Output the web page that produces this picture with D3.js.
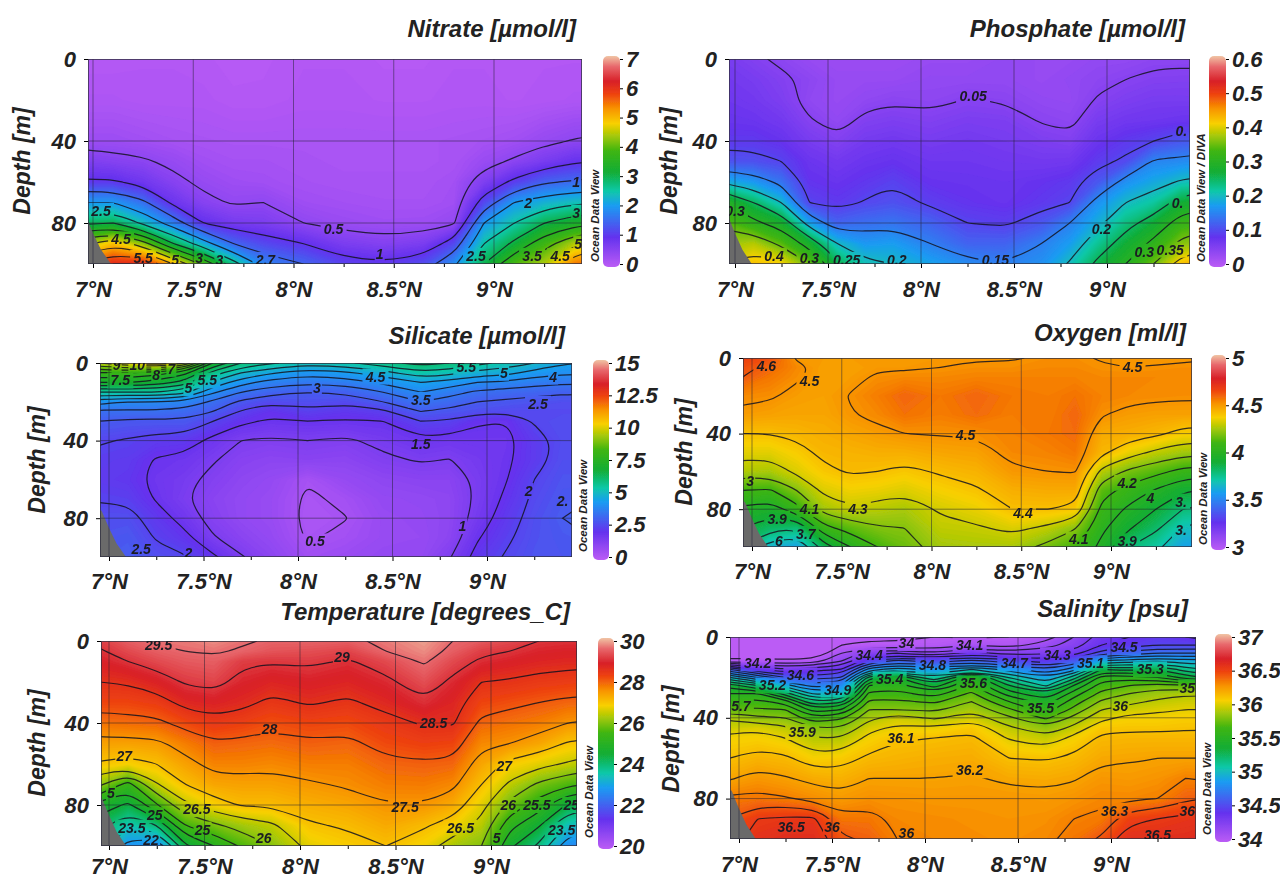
<!DOCTYPE html>
<html>
<head>
<meta charset="utf-8">
<script src="https://d3js.org/d3.v7.min.js"></script>
<style>
  body { margin: 0; background: #fff; }
  text { font-family: "Liberation Sans", Arial, sans-serif; font-weight: bold; font-style: italic; fill: #222; }
</style>
</head>
<body>
<svg id="chart" width="1280" height="879"></svg>
<script>
// Section stations, shared by all six panels
const sectionLats = [6.95, 7.1, 7.25, 7.4, 7.55, 7.7, 7.85, 8.05, 8.25, 8.45, 8.65, 8.8, 8.95, 9.1, 9.25, 9.4, 9.5];
const latTicks = [7, 7.5, 8, 8.5, 9];
const latMinorTicks = [7.25, 7.75, 8.25, 8.75, 9.25];
const depthTicks = [0, 40, 80];
const seafloorLat = [6.9, 6.96, 7.0, 7.04, 7.09, 6.9];
const seafloorDepth = [76, 76, 85, 93, 100, 100];

// Colour bar of the Ocean Data View rainbow
const rainbowStops = [0, 0.14, 0.29, 0.36, 0.45, 0.55, 0.62, 0.68, 0.75, 0.82, 0.88, 0.95, 1];
const rainbowColors = ['#bb5cf5', '#6432ee', '#1a9cf2', '#10c8a8', '#12ad35', '#3fb512', '#a2c808', '#f8d000', '#f89400', '#ee4210', '#d82028', '#e8686c', '#f0c4a4'];

// Nitrate, one row per depth
const nitrateDepths = [0, 20, 40, 50, 60, 70, 80, 90, 100];
const nitrateValues = d3.transpose([
  [.08, .08, .1, .1, .08, .05, .06, .1, .1, .06, .06, .1, .1, .08, .1, .1, .1],
  [.15, .15, .12, .12, .12, .08, .08, .12, .12, .1, .1, .12, .12, .1, .12, .15, .15],
  [.35, .35, .3, .25, .22, .2, .2, .2, .2, .2, .2, .22, .25, .3, .42, .52, .55],
  [.7, .62, .55, .42, .3, .25, .25, .22, .2, .2, .2, .22, .38, .55, .75, .95, 1],
  [1.05, 1.05, .85, .6, .42, .33, .3, .25, .22, .22, .22, .28, .68, 1.1, 1.45, 1.55, 1.6],
  [2, 2, 1.6, .9, .6, .46, .5, .32, .28, .25, .25, .3, 1.2, 2, 2.25, 2.4, 2.45],
  [2.9, 3, 2.4, 1.75, 1, .78, .72, .5, .38, .33, .34, .45, 2, 2.5, 3, 3.3, 3.4],
  [4.3, 4.9, 4.2, 3, 2.2, 1.5, 1.2, 1, .72, .62, .72, 1.2, 2.5, 3.1, 3.8, 4.4, 4.6],
  [5.5, 6, 6, 5, 3.9, 2.7, 1.8, 1.5, 1.15, 1.05, 1.25, 1.9, 3, 3.9, 4.4, 5.4, 5.6]
]);
const nitrateLevels = [.5, 1, 1.5, 2, 2.5, 3, 3.5, 4, 4.5, 5, 5.5, 6];
const nitrateTicks = [0, 1, 2, 3, 4, 5, 6, 7];
const nitrateLabels = [[7.04, 74, '2.5'], [7.14, 88, '4.5'], [7.25, 97, '5.5'], [7.41, 98, '5'], [7.53, 97, '3'], [7.63, 98, '3'], [7.86, 98, '2.7'], [8.2, 83, '0.5'], [8.43, 95, '1'], [8.91, 96, '2.5'], [9.19, 96, '3.5'], [9.33, 96, '4.5'], [9.42, 90, '5'], [9.17, 70, '2'], [9.41, 60, '1'], [9.41, 75, '3']];

// Phosphate, one row per depth
const phosphateDepths = [0, 10, 20, 30, 40, 50, 60, 70, 80, 90, 100];
const phosphateValues = d3.transpose([
  [.065, .055, .045, .035, .03, .03, .03, .035, .035, .04, .035, .035, .04, .04, .045, .045, .045],
  [.07, .065, .055, .045, .035, .035, .035, .04, .04, .04, .035, .04, .045, .05, .055, .056, .056],
  [.075, .07, .06, .042, .035, .042, .047, .044, .051, .048, .04, .038, .052, .06, .065, .065, .064],
  [.08, .078, .07, .052, .04, .056, .06, .056, .062, .06, .048, .044, .065, .072, .075, .078, .08],
  [.09, .09, .082, .065, .055, .068, .072, .066, .07, .066, .06, .056, .078, .09, .1, .115, .12],
  [.112, .11, .1, .078, .07, .078, .082, .075, .075, .072, .07, .072, .092, .105, .155, .16, .165],
  [.19, .172, .14, .085, .08, .088, .098, .082, .08, .078, .083, .09, .115, .164, .185, .205, .21],
  [.3, .25, .2, .1, .09, .102, .11, .095, .085, .08, .09, .1, .165, .2, .22, .27, .28],
  [.34, .31, .28, .18, .125, .135, .14, .125, .1, .095, .115, .15, .19, .235, .27, .32, .33],
  [.37, .38, .34, .28, .2, .17, .175, .15, .125, .125, .15, .175, .225, .27, .31, .36, .37],
  [.4, .42, .41, .35, .26, .21, .2, .18, .16, .15, .165, .205, .26, .3, .35, .42, .44]
]);
const phosphateLevels = [.05, .1, .15, .2, .25, .3, .35, .4];
const phosphateTicks = [0, .1, .2, .3, .4, .5, .6];
const phosphateLabels = [[7, 74, '0.3'], [7.21, 96, '0.4'], [7.4, 97, '0.3'], [7.6, 98, '0.25'], [7.87, 98, '0.2'], [8.4, 98, '0.15'], [8.28, 18, '0.05'], [8.97, 83, '0.2'], [9.2, 94, '0.3'], [9.34, 93, '0.35'], [9.4, 35, '0.'], [9.38, 70, '0.']];

// Silicate, one row per depth
const silicateDepths = [0, 5, 10, 15, 20, 25, 30, 40, 50, 60, 70, 80, 90, 100];
const silicateValues = d3.transpose([
  [9.5, 10, 10.5, 9.5, 7, 6, 5.6, 5.2, 5.4, 5.8, 6.2, 6, 5.7, 5.3, 5, 4.6, 4.5],
  [8, 8, 7.8, 7.2, 5.8, 5, 4.6, 4.2, 4.4, 4.8, 5.4, 5.2, 4.8, 4.7, 4.3, 4.1, 4.1],
  [7, 7, 6.8, 6.3, 4.9, 4.2, 3.8, 3.6, 3.7, 4.1, 4.5, 4.3, 4, 3.9, 3.7, 3.6, 3.6],
  [5.5, 5.5, 5.5, 5.2, 4.1, 3.5, 3.2, 3, 3.1, 3.5, 4, 3.7, 3.4, 3.3, 3.2, 3.1, 3.1],
  [4.2, 4, 4, 3.9, 3.4, 2.9, 2.6, 2.7, 2.6, 3, 3.5, 3.3, 3, 2.9, 2.8, 2.7, 2.7],
  [3.4, 3.4, 3.4, 3.3, 3, 2.45, 2.1, 2.4, 2.2, 2.4, 3, 2.85, 2.7, 2.6, 2.6, 2.6, 2.6],
  [3, 2.9, 2.9, 2.9, 2.5, 2.1, 1.95, 2, 1.95, 2, 2.5, 2.45, 2.05, 2, 2.55, 2.7, 2.7],
  [2.55, 2.45, 2.3, 2.25, 1.85, 1.5, 1.4, 1.5, 1.4, 1.65, 1.9, 1.8, 1.85, 1.85, 2.3, 2.65, 2.65],
  [2.35, 2.3, 1.95, 1.85, 1.55, 1.25, 1.15, 1.2, 1.15, 1.4, 1.55, 1.48, 1.7, 1.9, 2.3, 2.7, 2.7],
  [2.3, 2.2, 1.85, 1.65, 1.35, 1.1, .95, .53, .9, 1.1, 1.2, 1.2, 1.6, 1.97, 2.5, 2.8, 2.8],
  [2.45, 2.4, 1.95, 1.55, 1.2, 1, .85, .42, .6, .95, 1, 1.1, 1.6, 2.1, 2.6, 2.9, 2.95],
  [2.7, 2.7, 2.25, 1.8, 1.3, 1, .85, .38, .48, .85, .95, 1.1, 1.7, 2.25, 2.7, 3, 3.1],
  [2.8, 2.9, 2.45, 2.15, 1.55, 1.2, .95, .45, .6, .85, .9, 1.15, 1.95, 2.4, 2.75, 2.9, 2.95],
  [2.9, 3, 2.7, 2.55, 2.1, 1.55, 1.15, .65, .8, .95, .95, 1.45, 2.2, 2.55, 2.8, 2.85, 2.85]
]);
const silicateLevels = [.5, 1.5, 2, 2.5, 3, 3.5, 4, 4.5, 5, 5.5, 6, 6.5, 7, 7.5, 8, 8.5, 9, 9.5, 10];
const silicateTicks = [0, 2.5, 5, 7.5, 10, 12.5, 15];
const silicateLabels = [[7.04, 1, '9'], [7.15, 1, '10'], [7.06, 9, '7.5'], [7.25, 6, '8'], [7.33, 3, '7'], [7.42, 13, '5'], [7.52, 9, '5.5'], [8.41, 7, '4.5'], [8.89, 2, '5.5'], [9.09, 5, '5'], [9.35, 7, '4'], [8.1, 13, '3'], [8.65, 19, '3.5'], [9.27, 21, '2.5'], [8.65, 42, '1.5'], [9.22, 66, '2'], [8.87, 84, '1'], [9.4, 71, '2.'], [7.17, 96, '2.5'], [8.09, 92, '0.5'], [7.42, 98, '2']];

// Oxygen, one column per station
const oxygenDepths = [0, 5, 10, 20, 30, 40, 50, 60, 70, 80, 90, 100];
const oxygenValues = [
  [4.65, 4.62, 4.6, 4.52, 4.48, 4.4, 4.33, 4.26, 4.1, 3.98, 3.9, 3.8],
  [4.62, 4.58, 4.55, 4.51, 4.47, 4.4, 4.33, 4.25, 4.09, 3.95, 3.83, 3.65],
  [4.49, 4.52, 4.51, 4.48, 4.46, 4.42, 4.37, 4.32, 4.2, 4.06, 3.8, 3.6],
  [4.48, 4.47, 4.47, 4.47, 4.46, 4.44, 4.42, 4.38, 4.32, 4.24, 4.07, 3.85],
  [4.48, 4.47, 4.48, 4.505, 4.495, 4.46, 4.43, 4.41, 4.35, 4.29, 4.14, 4],
  [4.48, 4.49, 4.51, 4.54, 4.52, 4.48, 4.44, 4.4, 4.34, 4.27, 4.19, 4.1],
  [4.485, 4.49, 4.52, 4.58, 4.56, 4.5, 4.44, 4.38, 4.32, 4.25, 4.2, 4.16],
  [4.49, 4.5, 4.52, 4.55, 4.54, 4.505, 4.46, 4.41, 4.36, 4.31, 4.28, 4.24],
  [4.495, 4.51, 4.53, 4.58, 4.57, 4.51, 4.47, 4.43, 4.39, 4.34, 4.29, 4.25],
  [4.495, 4.51, 4.53, 4.55, 4.54, 4.53, 4.52, 4.49, 4.44, 4.4, 4.32, 4.25],
  [4.51, 4.52, 4.53, 4.54, 4.54, 4.55, 4.53, 4.5, 4.45, 4.4, 4.28, 4.17],
  [4.51, 4.52, 4.53, 4.56, 4.58, 4.57, 4.55, 4.505, 4.45, 4.38, 4.21, 4.1],
  [4.495, 4.505, 4.52, 4.53, 4.505, 4.45, 4.42, 4.27, 4.14, 4.07, 4.02, 3.97],
  [4.49, 4.5, 4.52, 4.52, 4.48, 4.44, 4.34, 4.18, 4.06, 3.98, 3.91, 3.8],
  [4.485, 4.505, 4.52, 4.515, 4.47, 4.42, 4.28, 4.13, 3.99, 3.9, 3.82, 3.73],
  [4.49, 4.51, 4.52, 4.51, 4.47, 4.37, 4.24, 4.07, 3.91, 3.8, 3.69, 3.6],
  [4.495, 4.51, 4.52, 4.51, 4.47, 4.37, 4.23, 4.06, 3.9, 3.78, 3.67, 3.58]
];
const oxygenLevels = [3.7, 3.8, 3.9, 4, 4.1, 4.2, 4.3, 4.4, 4.5, 4.6];
const oxygenTicks = [3, 3.5, 4, 4.5, 5];
const oxygenLabels = [[7.08, 4, '4.6'], [7.32, 12, '4.5'], [9.12, 5, '4.5'], [8.19, 41, '4.5'], [7.59, 80, '4.3'], [8.51, 82, '4.4'], [9.09, 66, '4.2'], [9.22, 74, '4'], [9.39, 76, '3.'], [7.14, 85, '3.9'], [7.32, 80, '4.1'], [7.3, 93, '3.7'], [7.15, 97, '6'], [6.99, 65, '3'], [8.82, 96, '4.1'], [9.09, 97, '3.9'], [9.39, 91, '3.']];

// Temperature, one column per station
const temperatureDepths = [0, 5, 10, 20, 30, 40, 50, 60, 70, 80, 90, 100];
const temperatureValues = [
  [29.1, 28.95, 28.8, 28.5, 28.2, 27.8, 27.35, 26.95, 26.1, 24.8, 24.2, 23.8],
  [29.4, 29.2, 29, 28.55, 28.2, 27.85, 27.35, 26.8, 25.3, 24.4, 23.5, 22.8],
  [29.55, 29.4, 29.2, 28.75, 28.3, 27.9, 27.4, 27, 26.45, 25.45, 24, 22.6],
  [29.6, 29.5, 29.35, 29.05, 28.65, 28.15, 27.7, 27.35, 27, 26.4, 25.5, 24.4],
  [29.7, 29.55, 29.4, 29.15, 28.75, 28.35, 27.95, 27.65, 27.3, 26.8, 25.9, 25],
  [29.55, 29.45, 29.08, 28.85, 28.62, 28.25, 27.9, 27.65, 27.35, 27.05, 26.2, 25.6],
  [29.45, 29.3, 29.03, 28.7, 28.4, 28.1, 27.85, 27.6, 27.35, 27.05, 26.4, 26],
  [29.45, 29.25, 29.08, 28.8, 28.55, 28.2, 27.95, 27.7, 27.45, 27.2, 26.95, 26.65],
  [29.4, 29.15, 28.95, 28.7, 28.43, 28.15, 27.9, 27.7, 27.55, 27.3, 27.05, 26.85],
  [29.6, 29.5, 29.2, 28.9, 28.65, 28.35, 28.15, 27.9, 27.7, 27.48, 27.25, 27],
  [29.8, 29.7, 29.55, 29.25, 28.95, 28.55, 28.25, 27.95, 27.72, 27.47, 27.05, 26.75],
  [29.5, 29.4, 29.2, 28.9, 28.7, 28.55, 28.2, 27.9, 27.6, 27.25, 26.8, 26.25],
  [29.35, 29.1, 28.92, 28.5, 28.2, 27.9, 27.6, 27.3, 27, 26.65, 26.35, 26],
  [29.2, 29, 28.8, 28.45, 28.1, 27.8, 27.5, 26.85, 26.4, 25.85, 25.15, 24.6],
  [29, 28.85, 28.7, 28.35, 28, 27.7, 27.3, 26.65, 25.9, 25.25, 24.55, 23.9],
  [28.95, 28.8, 28.65, 28.3, 27.9, 27.5, 26.95, 26.45, 25.6, 24.45, 23.45, 22.7],
  [28.95, 28.8, 28.65, 28.25, 27.9, 27.45, 26.9, 26.3, 25.5, 24.3, 23.2, 22.5]
];
const temperatureLevels = [22.5, 23, 23.5, 24, 24.5, 25, 25.5, 26, 26.5, 27, 27.5, 28, 28.5, 29, 29.5];
const temperatureTicks = [20, 22, 24, 26, 28, 30];
const temperatureLabels = [[7.26, 2, '29.5'], [8.22, 8, '29'], [8.7, 40, '28.5'], [7.84, 43, '28'], [7.08, 56, '27'], [9.07, 61, '27'], [8.55, 81, '27.5'], [7.46, 82, '26.5'], [7.24, 85, '25'], [7.81, 96, '26'], [8.84, 91, '26.5'], [9.09, 80, '26'], [9.24, 80, '25.5'], [9.42, 80, '25'], [7.01, 74, '5'], [7.12, 91, '23.5'], [7.22, 97, '22'], [7.49, 92, '25'], [9.03, 96, '5'], [9.37, 92, '23.5']];

// Salinity, one column per station
const salinityDepths = [0, 4, 8, 12, 16, 20, 24, 28, 32, 36, 40, 45, 50, 60, 70, 80, 90, 100];
const salinityValues = [
  [33.9, 33.9, 33.9, 34.05, 34.6, 35, 35.35, 35.5, 35.62, 35.72, 35.88, 35.95, 36.03, 36.1, 36.19, 36.32, 36.4, 36.45],
  [33.9, 33.9, 33.9, 34.05, 34.4, 34.8, 35.2, 35.5, 35.63, 35.72, 35.82, 35.98, 36.04, 36.14, 36.24, 36.33, 36.5, 36.55],
  [33.9, 33.9, 33.9, 34.03, 34.3, 34.6, 34.95, 35.25, 35.55, 35.7, 35.8, 35.92, 36, 36.12, 36.21, 36.31, 36.52, 36.58],
  [33.9, 33.9, 33.9, 34.05, 34.35, 34.55, 34.75, 34.98, 35.2, 35.45, 35.62, 35.8, 35.9, 36.04, 36.17, 36.27, 36.52, 36.58],
  [33.92, 34, 34.1, 34.2, 34.4, 34.6, 34.8, 35, 35.27, 35.5, 35.68, 35.8, 35.9, 36.06, 36.15, 36.23, 36.33, 36.42],
  [33.98, 34.02, 34.25, 34.5, 34.85, 35.25, 35.5, 35.63, 35.72, 35.8, 35.87, 35.97, 36.03, 36.12, 36.2, 36.26, 36.33, 36.38],
  [33.98, 34.02, 34.3, 34.65, 34.95, 35.4, 35.55, 35.63, 35.72, 35.8, 35.95, 36.02, 36.09, 36.14, 36.2, 36.25, 36.28, 36.3],
  [34, 34.02, 34.2, 34.55, 34.85, 35.1, 35.35, 35.55, 35.68, 35.78, 35.88, 36.01, 36.1, 36.16, 36.2, 36.24, 36.27, 36.28],
  [33.98, 34.1, 34.35, 34.65, 35, 35.5, 35.62, 35.72, 35.8, 35.87, 35.96, 36.07, 36.12, 36.17, 36.21, 36.24, 36.26, 36.27],
  [34, 34.05, 34.25, 34.55, 34.85, 35.1, 35.3, 35.45, 35.6, 35.72, 35.82, 35.92, 35.99, 36.1, 36.18, 36.24, 36.25, 36.26],
  [34.05, 34.15, 34.28, 34.45, 34.7, 34.9, 35.08, 35.3, 35.45, 35.55, 35.68, 35.82, 35.93, 36.09, 36.17, 36.23, 36.26, 36.28],
  [34.2, 34.25, 34.35, 34.6, 34.85, 35.15, 35.4, 35.55, 35.65, 35.73, 35.83, 35.93, 36.03, 36.12, 36.19, 36.25, 36.3, 36.33],
  [34.35, 34.4, 34.55, 34.95, 35.3, 35.55, 35.65, 35.73, 35.82, 35.9, 35.97, 36.07, 36.12, 36.18, 36.24, 36.28, 36.32, 36.42],
  [34.4, 34.45, 34.65, 34.95, 35.25, 35.55, 35.7, 35.8, 35.87, 35.95, 36.03, 36.08, 36.13, 36.19, 36.23, 36.28, 36.47, 36.57],
  [34.45, 34.5, 34.7, 35, 35.3, 35.5, 35.75, 35.85, 35.92, 35.98, 36.03, 36.08, 36.13, 36.2, 36.25, 36.3, 36.5, 36.57],
  [34.4, 34.5, 34.7, 34.95, 35.15, 35.35, 35.7, 35.88, 35.95, 36, 36.05, 36.09, 36.13, 36.2, 36.3, 36.38, 36.53, 36.58],
  [34.35, 34.5, 34.7, 34.95, 35.1, 35.3, 35.7, 35.88, 35.95, 36, 36.05, 36.09, 36.13, 36.2, 36.29, 36.4, 36.54, 36.6]
];
const salinityLevels = d3.range(34, 36.55, 0.1).map(d => +d.toFixed(1));
const salinityTicks = [34, 34.5, 35, 35.5, 36, 36.5, 37];
const salinityLabels = [[7.1, 13, '34.2'], [7.33, 19, '34.6'], [7.18, 24, '35.2'], [7.53, 26, '34.9'], [7.7, 9, '34.4'], [7.9, 3, '34'], [8.24, 4, '34.1'], [8.71, 9, '34.3'], [9.07, 5, '34.5'], [8.04, 14, '34.8'], [8.48, 13, '34.7'], [8.89, 13, '35.1'], [9.21, 16, '35.3'], [7.81, 21, '35.4'], [8.26, 23, '35.6'], [8.62, 35, '35.5'], [9.05, 34, '36'], [9.41, 25, '35'], [7.01, 34, '5.7'], [7.34, 47, '35.9'], [7.87, 50, '36.1'], [8.24, 66, '36.2'], [9.02, 86, '36.3'], [7.28, 94, '36.5'], [7.5, 94, '36'], [9.41, 86, '36'], [9.25, 98, '36.5'], [7.9, 97, '36']];

const panels = [
  { name: 'nitrate', title: 'Nitrate [µmol/l]', credit: 'Ocean Data View', depths: nitrateDepths, values: nitrateValues, levels: nitrateLevels, ticks: nitrateTicks, labels: nitrateLabels,
    left: 88, right: 582, top: 59, bottom: 264, x7: 93, x9: 494, barX: 603, barW: 17, titleX: 576, titleY: 37, depthX: 22, depthY: 161, creditX: 595, creditY: 262, tickGap: 13 },
  { name: 'phosphate', title: 'Phosphate [µmol/l]', credit: 'Ocean Data View / DIVA', depths: phosphateDepths, values: phosphateValues, levels: phosphateLevels, ticks: phosphateTicks, labels: phosphateLabels,
    left: 729, right: 1190, top: 59, bottom: 264, x7: 735, x9: 1107, barX: 1209, barW: 17, titleX: 1185, titleY: 37, depthX: 669, depthY: 161, creditX: 1201, creditY: 262, tickGap: 13 },
  { name: 'silicate', title: 'Silicate [µmol/l]', credit: 'Ocean Data View', depths: silicateDepths, values: silicateValues, levels: silicateLevels, ticks: silicateTicks, labels: silicateLabels,
    left: 100, right: 572, top: 363, bottom: 557, x7: 109, x9: 487, barX: 593, barW: 16, titleX: 565, titleY: 344, depthX: 37, depthY: 460, creditX: 583, creditY: 552, tickGap: 12 },
  { name: 'oxygen', title: 'Oxygen [ml/l]', credit: 'Ocean Data View', depths: oxygenDepths, values: oxygenValues, levels: oxygenLevels, ticks: oxygenTicks, labels: oxygenLabels,
    left: 743, right: 1192, top: 358, bottom: 547, x7: 752, x9: 1111, barX: 1211, barW: 15, titleX: 1186, titleY: 341, depthX: 684, depthY: 452, creditX: 1203, creditY: 545, tickGap: 12 },
  { name: 'temperature', title: 'Temperature [degrees_C]', credit: 'Ocean Data View', depths: temperatureDepths, values: temperatureValues, levels: temperatureLevels, ticks: temperatureTicks, labels: temperatureLabels,
    left: 101, right: 577, top: 641, bottom: 846, x7: 109, x9: 491, barX: 598, barW: 16, titleX: 570, titleY: 620, depthX: 37, depthY: 743, creditX: 589, creditY: 838, tickGap: 8 },
  { name: 'salinity', title: 'Salinity [psu]', credit: 'Ocean Data View', depths: salinityDepths, values: salinityValues, levels: salinityLevels, ticks: salinityTicks, labels: salinityLabels,
    left: 730, right: 1196, top: 637, bottom: 839, x7: 739, x9: 1111, barX: 1215, barW: 17, titleX: 1188, titleY: 617, depthX: 671, depthY: 739, creditX: 1207, creditY: 835, tickGap: 13 }
];

const svg = d3.select('#chart');
const defs = svg.append('defs');

defs.append('filter').attr('id', 'soft')
  .append('feGaussianBlur').attr('stdDeviation', 0.7);

const rainbow = d3.scaleLinear().domain(rainbowStops).range(rainbowColors).clamp(true);

const gradient = defs.append('linearGradient')
  .attr('id', 'rainbowBar')
  .attr('x1', 0).attr('x2', 0).attr('y1', 1).attr('y2', 0);
gradient.selectAll('stop')
  .data(rainbowStops)
  .enter()
  .append('stop')
  .attr('offset', d => d)
  .attr('stop-color', d => rainbow(d));

// contour coordinates are in cell units, with the samples on the cell centres
function gridPosition(c, positions) {
  const i = Math.max(0, Math.min(positions.length - 1, c - 0.5));
  const lo = Math.min(Math.floor(i), positions.length - 2);
  return positions[lo] + (i - lo) * (positions[lo + 1] - positions[lo]);
}

// Cut a contour ring where it runs along the edge of the grid
function ringRuns(ring, nx, ny) {
  const pts = ring.slice(0, -1);
  const onEdge = p => p[0] <= 0 || p[0] >= nx || p[1] <= 0 || p[1] >= ny;
  const start = pts.findIndex(onEdge);
  if (start < 0) return [{ pts, closed: true }];
  const runs = [];
  let run = [];
  for (let k = 0; k < pts.length; k++) {
    const p = pts[(start + k) % pts.length];
    if (onEdge(p)) {
      if (run.length > 1) runs.push({ pts: run, closed: false });
      run = [];
    } else {
      run.push(p);
    }
  }
  if (run.length > 1) runs.push({ pts: run, closed: false });
  return runs;
}

panels.forEach(panel => {
  const xScale = d3.scaleLinear().domain([7, 9]).range([panel.x7, panel.x9]);
  const yScale = d3.scaleLinear().domain([0, 100]).range([panel.top, panel.bottom]);
  const valueMin = d3.min(panel.ticks);
  const valueMax = d3.max(panel.ticks);
  const color = v => rainbow((v - valueMin) / (valueMax - valueMin));
  const barScale = d3.scaleLinear().domain([valueMin, valueMax]).range([panel.bottom, panel.top]);

  const nx = sectionLats.length;
  const ny = panel.depths.length;
  const flat = [];
  for (let j = 0; j < ny; j++) {
    for (let i = 0; i < nx; i++) flat.push(panel.values[i][j]);
  }
  const px = c => xScale(gridPosition(c, sectionLats));
  const py = c => yScale(gridPosition(c, panel.depths));
  const contours = d3.contours().size([nx, ny]);
  const path = d3.geoPath(d3.geoTransform({
    point(cx, cy) { this.stream.point(px(cx), py(cy)); }
  }));

  defs.append('clipPath').attr('id', `clip-${panel.name}`)
    .append('rect')
    .attr('x', panel.left).attr('y', panel.top)
    .attr('width', panel.right - panel.left).attr('height', panel.bottom - panel.top);

  // Holes in the contour lines behind their labels
  const mask = defs.append('mask').attr('id', `gaps-${panel.name}`)
    .attr('maskUnits', 'userSpaceOnUse')
    .attr('x', 0).attr('y', 0).attr('width', 1280).attr('height', 879);
  mask.append('rect').attr('width', 1280).attr('height', 879).attr('fill', '#fff');
  mask.selectAll('rect.gap')
    .data(panel.labels)
    .enter()
    .append('rect')
    .attr('class', 'gap')
    .attr('x', d => xScale(d[0]) - 4 * d[2].length - 1)
    .attr('y', d => yScale(d[1]) - 8)
    .attr('width', d => 8 * d[2].length + 2)
    .attr('height', 16)
    .attr('fill', '#000');

  const plot = svg.append('g')
    .attr('clip-path', `url(#clip-${panel.name})`)
    .attr('filter', 'url(#soft)');

  plot.append('rect')
    .attr('x', panel.left).attr('y', panel.top)
    .attr('width', panel.right - panel.left).attr('height', panel.bottom - panel.top)
    .attr('fill', color(valueMin));

  // Filled field, many thin bands painted from low to high
  const bandCount = 200;
  d3.range(bandCount).forEach(k => {
    const low = valueMin + (valueMax - valueMin) * k / bandCount;
    const high = valueMin + (valueMax - valueMin) * (k + 1) / bandCount;
    plot.append('path')
      .attr('d', path(contours.contour(flat, low)))
      .attr('fill', color((low + high) / 2));
  });

  // Contour lines
  const openLine = d3.line().x(d => px(d[0])).y(d => py(d[1])).curve(d3.curveBasis);
  const closedLine = d3.line().x(d => px(d[0])).y(d => py(d[1])).curve(d3.curveBasisClosed);
  const lines = plot.append('g').attr('mask', `url(#gaps-${panel.name})`);
  panel.levels.forEach(level => {
    contours.contour(flat, level).coordinates.forEach(polygon => {
      polygon.forEach(ring => {
        ringRuns(ring, nx, ny).forEach(run => {
          lines.append('path')
            .attr('d', run.closed ? closedLine(run.pts) : openLine(run.pts))
            .attr('fill', 'none')
            .attr('stroke', '#141420')
            .attr('stroke-opacity', 0.85)
            .attr('stroke-width', 1.2);
        });
      });
    });
  });

  // Grey sea floor in the corner
  const floorPoints = seafloorLat.map((lat, i) => [xScale(lat), yScale(seafloorDepth[i])]);
  plot.append('path')
    .attr('d', d3.line()(floorPoints) + 'Z')
    .attr('fill', '#6a6a6a');

  // Grid lines
  plot.selectAll('line.lat')
    .data(latTicks)
    .enter()
    .append('line')
    .attr('x1', d => xScale(d)).attr('x2', d => xScale(d))
    .attr('y1', panel.top).attr('y2', panel.bottom)
    .attr('stroke', '#202030').attr('stroke-opacity', 0.5);
  plot.selectAll('line.depth')
    .data(depthTicks.slice(1))
    .enter()
    .append('line')
    .attr('x1', panel.left).attr('x2', panel.right)
    .attr('y1', d => yScale(d)).attr('y2', d => yScale(d))
    .attr('stroke', '#202030').attr('stroke-opacity', 0.5);

  plot.append('rect')
    .attr('x', panel.left).attr('y', panel.top)
    .attr('width', panel.right - panel.left).attr('height', panel.bottom - panel.top)
    .attr('fill', 'none').attr('stroke', '#303040').attr('stroke-width', 1.5);

  // Contour labels
  plot.append('g').selectAll('text')
    .data(panel.labels)
    .enter()
    .append('text')
    .attr('x', d => xScale(d[0]))
    .attr('y', d => yScale(d[1]) + 5)
    .attr('text-anchor', 'middle')
    .style('font-size', '14px')
    .style('fill', '#1a1a24')
    .text(d => d[2]);

  // Axes
  const xAxis = svg.append('g')
    .attr('transform', `translate(0,${panel.bottom})`)
    .call(d3.axisBottom(xScale).tickValues(latTicks).tickSize(4).tickPadding(panel.tickGap).tickFormat(d => `${d}°N`));
  xAxis.select('.domain').remove();
  xAxis.selectAll('text').style('font-size', '22px');

  const xMinor = svg.append('g')
    .attr('transform', `translate(0,${panel.bottom})`)
    .call(d3.axisBottom(xScale).tickValues(latMinorTicks).tickSize(3).tickFormat(''));
  xMinor.select('.domain').remove();

  const yAxis = svg.append('g')
    .attr('transform', `translate(${panel.left},0)`)
    .call(d3.axisLeft(yScale).tickValues(depthTicks).tickSize(4).tickPadding(8));
  yAxis.select('.domain').remove();
  yAxis.selectAll('text').style('font-size', '22px');

  svg.append('text')
    .attr('transform', `translate(${panel.depthX},${panel.depthY}) rotate(-90)`)
    .attr('text-anchor', 'middle')
    .attr('dy', '0.35em')
    .style('font-size', '23px')
    .text('Depth [m]');

  svg.append('text')
    .attr('x', panel.titleX).attr('y', panel.titleY)
    .attr('text-anchor', 'end')
    .style('font-size', '24px')
    .text(panel.title);

  svg.append('text')
    .attr('transform', `translate(${panel.creditX},${panel.creditY}) rotate(-90)`)
    .attr('dy', '0.35em')
    .style('font-size', '11.5px')
    .text(panel.credit);

  // Colour bar
  svg.append('rect')
    .attr('x', panel.barX).attr('y', panel.top - 3)
    .attr('width', panel.barW).attr('height', panel.bottom - panel.top + 6)
    .attr('rx', 5)
    .attr('fill', 'url(#rainbowBar)')
    .attr('filter', 'url(#soft)');

  const barAxis = svg.append('g')
    .attr('transform', `translate(${panel.barX + panel.barW},0)`)
    .call(d3.axisRight(barScale).tickValues(panel.ticks).tickSize(3).tickPadding(3).tickFormat(d => d));
  barAxis.select('.domain').remove();
  barAxis.selectAll('text').style('font-size', '22px');
});
</script>
</body>
</html>
